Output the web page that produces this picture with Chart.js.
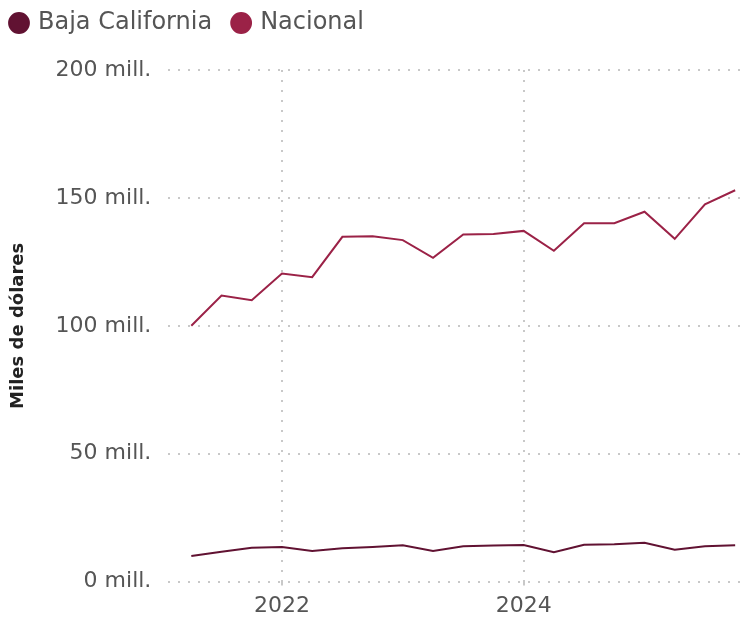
<!DOCTYPE html>
<html>
<head>
<meta charset="utf-8">
<script src="https://cdn.jsdelivr.net/npm/chart.js@4"></script>
<style>
  body { margin: 0; background: #fff; }
  #wrap { width: 748px; height: 617px; }
</style>
</head>
<body>
<div id="wrap"><canvas id="chart"></canvas></div>
<script>
  // quarters shown (year-month of the quarter start)
  let periods = ['2021-04','2021-07','2021-10','2022-01','2022-04','2022-07','2022-10',
    '2023-01','2023-04','2023-07','2023-10','2024-01','2024-04','2024-07','2024-10',
    '2025-01','2025-04','2025-07','2025-10'];
  // millones de dólares
  let bajaCalifornia = [10.0,11.7,13.2,13.5,12.0,13.0,13.5,14.2,12.0,13.8,14.1,14.3,11.5,14.4,14.6,15.2,12.5,13.8,14.2];
  let nacional = [100.0,111.8,110.0,120.4,119.0,134.8,135.0,133.5,126.6,135.7,135.9,137.1,129.3,140.1,140.1,144.6,134.0,147.5,153.0];
  let yTicks = [0,50,100,150,200];
  let xTicks = [2022,2024];

  function toYear(p) {
    let parts = p.split('-');
    return Number(parts[0]) + (Number(parts[1]) - 1) / 12;
  }
  function points(values) {
    let list = [];
    for (let i = 0; i < periods.length; i++) {
      list.push({x: toYear(periods[i]), y: values[i]});
    }
    return list;
  }

  let fontName = "'DejaVu Sans', sans-serif";
  let gridColor = '#c8c8c8';

  // push the plot down a bit below the legend
  let legendGap = {
    id: 'legendGap',
    beforeInit: function(chart) {
      let fitOrig = chart.legend.fit;
      chart.legend.fit = function() {
        fitOrig.bind(chart.legend)();
        this.height += 25;
      };
    }
  };

  new Chart(document.getElementById('chart'), {
    type: 'line',
    data: {
      datasets: [
        {label: 'Baja California', data: points(bajaCalifornia), borderColor: '#611232', backgroundColor: '#611232', borderWidth: 2, pointRadius: 0, tension: 0},
        {label: 'Nacional', data: points(nacional), borderColor: '#9b2247', backgroundColor: '#9b2247', borderWidth: 2, pointRadius: 0, tension: 0}
      ]
    },
    options: {
      responsive: true,
      maintainAspectRatio: false,
      animation: false,
      layout: {padding: {left: -10, right: 8, top: -11, bottom: -9}},
      plugins: {
        legend: {
          position: 'top',
          align: 'start',
          labels: {
            usePointStyle: true,
            pointStyle: 'circle',
            boxWidth: 14,
            boxHeight: 14,
            color: '#555',
            padding: 22,
            font: {family: fontName, size: 24}
          }
        },
        tooltip: {enabled: false}
      },
      scales: {
        x: {
          type: 'linear',
          min: 2021.06,
          max: 2025.79,
          afterBuildTicks: function(axis) {
            axis.ticks = xTicks.map(function(v) { return {value: v}; });
          },
          ticks: {
            color: '#555',
            padding: 7,
            font: {family: fontName, size: 22},
            callback: function(v) { return String(v); }
          },
          grid: {color: gridColor, lineWidth: 2, drawTicks: true, tickLength: 4},
          border: {display: false, dash: [2, 8]}
        },
        y: {
          min: 0,
          max: 200,
          afterBuildTicks: function(axis) {
            axis.ticks = yTicks.map(function(v) { return {value: v}; });
          },
          ticks: {
            color: '#555',
            padding: 17,
            font: {family: fontName, size: 22},
            callback: function(v) { return v + ' mill.'; }
          },
          grid: {color: gridColor, lineWidth: 2, drawTicks: false},
          border: {display: false, dash: [2, 8]},
          title: {
            display: true,
            text: 'Miles de dólares',
            color: '#222',
            padding: {top: 18, bottom: 9},
            font: {family: fontName, size: 18, weight: 'bold'}
          }
        }
      }
    },
    plugins: [legendGap]
  });
</script>
</body>
</html>
